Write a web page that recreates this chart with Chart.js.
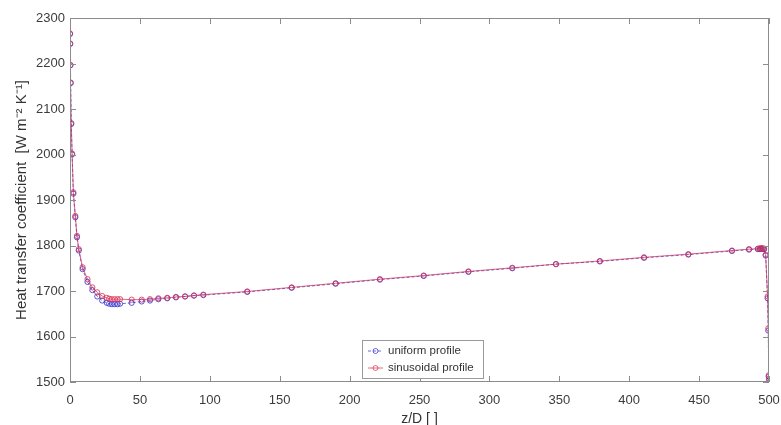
<!DOCTYPE html>
<html>
<head>
<meta charset="utf-8">
<script src="https://cdn.jsdelivr.net/npm/chart.js@4.4.1/dist/chart.umd.min.js"></script>
<style>
  html, body { margin: 0; padding: 0; background: #fff; }
  #wrap { width: 781px; height: 425px; }
</style>
</head>
<body>
<div id="wrap"><canvas id="htcChart" width="781" height="425"></canvas></div>
<script>
// z/D positions of the computed points
const zValues = [0.05, 0.15, 0.3, 0.5, 0.9, 1.5, 2.4, 3.8, 5.0, 6.3, 9.0, 12.5, 16.0, 19.5, 23.0,
  26.3, 28.0, 30.0, 32.0, 34.0, 35.8, 44.1, 51.3, 57.2, 63.2, 69.6, 75.8, 82.3, 88.7, 95.4,
  126.8, 158.6, 190.0, 221.7, 253.0, 285.0, 316.4, 347.6, 379.0, 410.6, 442.3, 473.5,
  485.7, 492.0, 493.5, 494.5, 495.5, 496.5, 497.6, 499.0, 499.5, 499.8, 499.95];

// heat transfer coefficient [W m-2 K-1]
const uniformHTC = [2265, 2243, 2196, 2157, 2067, 2000, 1914, 1862, 1818, 1789, 1748, 1720, 1702, 1688, 1679,
  1674, 1672, 1671, 1671, 1671, 1672, 1674, 1677, 1679, 1682, 1684, 1686, 1688, 1690, 1691,
  1698, 1707, 1716, 1725, 1733, 1742, 1750, 1759, 1765, 1773, 1780, 1788,
  1791, 1792, 1792, 1793, 1793, 1792, 1778, 1684, 1613, 1512, 1503];

const sinusoidalHTC = [2266, 2244, 2197, 2158, 2069, 2002, 1917, 1865, 1821, 1792, 1752, 1726, 1708, 1697, 1689,
  1685, 1683, 1682, 1682, 1682, 1682, 1681, 1681, 1682, 1684, 1685, 1687, 1688, 1690, 1692,
  1699, 1708, 1717, 1726, 1734, 1743, 1751, 1759, 1766, 1774, 1781, 1789,
  1792, 1793, 1794, 1794, 1794, 1793, 1780, 1688, 1618, 1515, 1508];

const seriesNames = ['uniform profile', 'sinusoidal profile'];
const xTicks = [0, 50, 100, 150, 200, 250, 300, 350, 400, 450, 500];
const yTicks = [1500, 1600, 1700, 1800, 1900, 2000, 2100, 2200, 2300];

const FONT = "'Liberation Sans', Arial, Helvetica, sans-serif";
const BLUE = 'rgba(45, 45, 210, 0.8)';
const RED = 'rgba(215, 45, 80, 0.8)';

const toPoints = (ys) => zValues.map((z, i) => ({ x: z, y: ys[i] }));

// MATLAB-like box with inward ticks + legend inside the axes
const matlabAxes = {
  id: 'matlabAxes',
  afterDraw(chart) {
    const { ctx, chartArea: a, scales: { x, y } } = chart;
    const tl = 6;
    ctx.save();
    ctx.strokeStyle = '#8c8c8c';
    ctx.lineWidth = 1;
    ctx.strokeRect(a.left + 0.5, a.top + 0.5, a.right - a.left - 1, a.bottom - a.top - 1);
    ctx.beginPath();
    xTicks.forEach(v => {
      const px = Math.round(x.getPixelForValue(v)) + 0.5;
      ctx.moveTo(px, a.bottom); ctx.lineTo(px, a.bottom - tl);
      ctx.moveTo(px, a.top); ctx.lineTo(px, a.top + tl);
    });
    yTicks.forEach(v => {
      const py = Math.round(y.getPixelForValue(v)) + 0.5;
      ctx.moveTo(a.left, py); ctx.lineTo(a.left + tl, py);
      ctx.moveTo(a.right, py); ctx.lineTo(a.right - tl, py);
    });
    ctx.stroke();

    // legend
    const lx = 362, ly = 340, lw = 121, lh = 38;
    ctx.fillStyle = '#fff';
    ctx.fillRect(lx, ly, lw, lh);
    ctx.strokeStyle = '#9a9a9a';
    ctx.strokeRect(lx + 0.5, ly + 0.5, lw, lh);
    const colors = [BLUE, RED];
    const dashes = [[3, 2], []];
    seriesNames.forEach((name, i) => {
      const cy = ly + 11 + i * 17;
      ctx.strokeStyle = colors[i];
      ctx.lineWidth = 0.9;
      ctx.setLineDash(dashes[i]);
      ctx.beginPath();
      ctx.moveTo(lx + 6, cy); ctx.lineTo(lx + 21, cy);
      ctx.stroke();
      ctx.setLineDash([]);
      ctx.beginPath();
      ctx.arc(lx + 13.5, cy, 2.5, 0, Math.PI * 2);
      ctx.stroke();
      ctx.fillStyle = '#333';
      ctx.font = '11.5px ' + FONT;
      ctx.textBaseline = 'middle';
      ctx.fillText(name, lx + 26, cy);
    });
    ctx.restore();
  }
};

new Chart(document.getElementById('htcChart').getContext('2d'), {
  type: 'line',
  data: {
    datasets: [
      {
        label: seriesNames[0],
        data: toPoints(uniformHTC),
        borderColor: BLUE,
        borderWidth: 0.9,
        borderDash: [3, 2],
        pointStyle: 'circle',
        pointRadius: 2.6,
        pointBorderWidth: 1,
        pointBorderColor: BLUE,
        pointBackgroundColor: 'rgba(0,0,0,0)',
        tension: 0,
        order: 1
      },
      {
        label: seriesNames[1],
        data: toPoints(sinusoidalHTC),
        borderColor: RED,
        borderWidth: 0.9,
        pointStyle: 'circle',
        pointRadius: 2.6,
        pointBorderWidth: 1,
        pointBorderColor: RED,
        pointBackgroundColor: 'rgba(0,0,0,0)',
        tension: 0,
        order: 0
      }
    ]
  },
  options: {
    responsive: false,
    animation: false,
    devicePixelRatio: 1,
    layout: { padding: { top: 18, right: 12, left: 0, bottom: 0 } },
    plugins: {
      legend: { display: false },
      tooltip: { enabled: false }
    },
    scales: {
      x: {
        type: 'linear',
        min: 0,
        max: 500,
        afterBuildTicks: (s) => { s.ticks = xTicks.map(v => ({ value: v })); },
        afterFit: (s) => { s.height = 43; s.paddingLeft = 0; s.paddingRight = 0; },
        grid: { display: false, drawTicks: false },
        border: { display: false },
        ticks: { color: '#3c3c3c', padding: 11, font: { family: FONT, size: 13 }, callback: (v) => String(v) },
        title: {
          display: true,
          text: 'z/D [ ]',
          color: '#333',
          font: { family: FONT, size: 14 },
          padding: { top: 0, bottom: -3 }
        }
      },
      y: {
        type: 'linear',
        min: 1500,
        max: 2300,
        afterBuildTicks: (s) => { s.ticks = yTicks.map(v => ({ value: v })); },
        afterFit: (s) => { s.width = 70; s.paddingTop = 0; s.paddingBottom = 0; },
        grid: { display: false, drawTicks: false },
        border: { display: false },
        ticks: { color: '#3c3c3c', padding: 5, font: { family: FONT, size: 13 }, callback: (v) => String(v) },
        title: {
          display: true,
          text: 'Heat transfer coefficient  [W m\u207B\u00B2 K\u207B\u00B9]',
          color: '#333',
          font: { family: FONT, size: 15 },
          padding: { top: 13, bottom: 0 }
        }
      }
    }
  },
  plugins: [matlabAxes]
});
</script>
</body>
</html>
